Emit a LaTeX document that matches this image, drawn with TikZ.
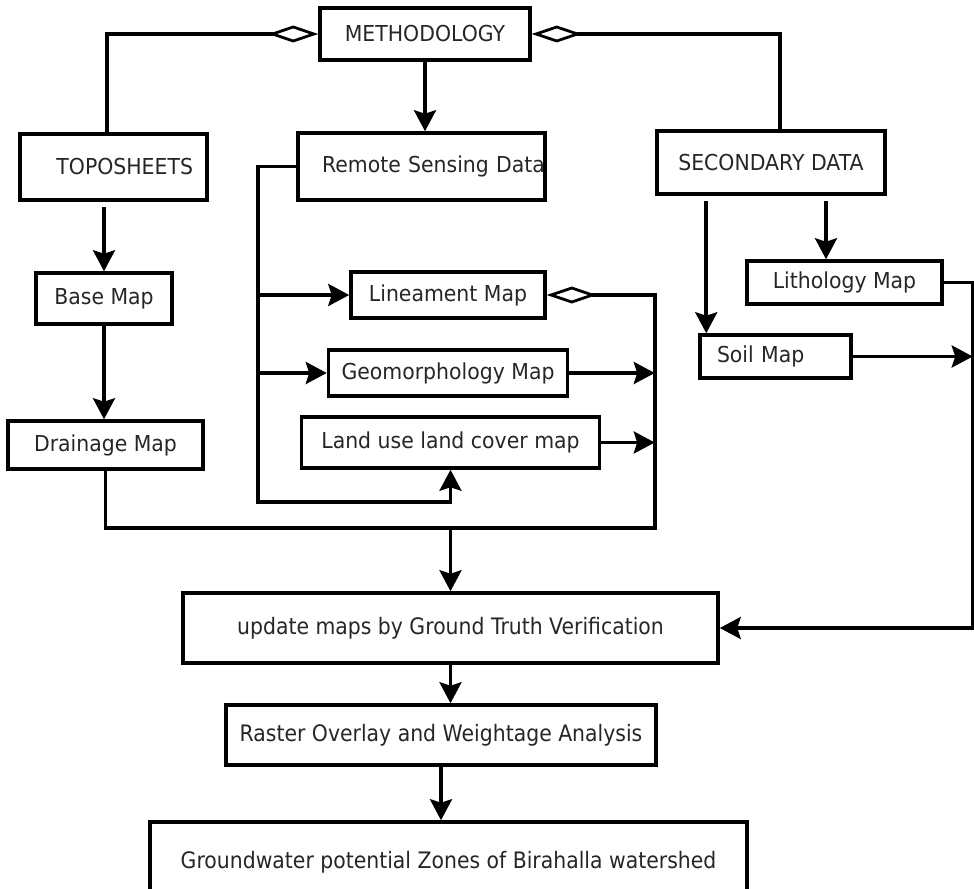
\documentclass[tikz,border=0pt]{standalone}
\usepackage{fontspec}
\usepackage{tikz}
\usetikzlibrary{shapes.geometric, arrows.meta}
\newfontfamily\mapfont[FakeStretch=0.93]{DejaVu Sans}
\newfontfamily\resfont[FakeStretch=0.9]{DejaVu Sans}
\tikzstyle{mapbox} = [rectangle, text centered, draw=black, line width=2pt, text=black!85, inner xsep=2pt, font=\mapfont\fontsize{12.5pt}{15pt}\selectfont]
\tikzstyle{resultbox} = [rectangle, text centered, draw=black, line width=2pt, text=black!85, font=\resfont\fontsize{12.9pt}{15pt}\selectfont]
\tikzstyle{arrow} = [line width=2pt, -{Stealth[length=0.42cm, width=0.44cm, inset=0.07cm]}]
\tikzstyle{agg} = [line width=2pt, {Diamond[open, length=1cm, width=0.34cm, line width=1.6pt]}-]
\tikzstyle{wire} = [line width=2pt]

\begin{document}
\begin{tikzpicture}[node distance=1.5cm]
    \useasboundingbox (0,0) rectangle (19.48,-17.78);
    \node (meth) [mapbox, minimum width=4.2cm, minimum height=1.04cm] at (8.5,-0.68) {METHODOLOGY};
    \node (rs) [mapbox, below of=meth, xshift=-0.07cm, yshift=-1.15cm, minimum height=1.34cm, text width=4.94cm, inner xsep=0pt, align=right] {Remote Sensing Data};
    \node (topo) [mapbox, left of=rs, xshift=-4.66cm, yshift=-0.01cm, minimum height=1.32cm, text width=3.18cm, inner xsep=0.28cm, align=right] {TOPOSHEETS};
    \node (sec) [mapbox, right of=rs, xshift=5.49cm, yshift=0.08cm, minimum width=4.56cm, minimum height=1.26cm] {SECONDARY DATA};
    \node (base) [mapbox, below of=topo, xshift=-0.19cm, yshift=-1.13cm, minimum width=2.72cm, minimum height=1.02cm] {Base Map};
    \node (drain) [mapbox, below of=base, xshift=0.03cm, yshift=-1.43cm, minimum width=3.9cm, minimum height=0.96cm] {Drainage Map};
    \node (lin) [mapbox, below of=rs, xshift=0.53cm, yshift=-1.07cm, minimum width=3.88cm, minimum height=0.92cm] {Lineament Map};
    \node (geo) [mapbox, below of=lin, yshift=-0.06cm, minimum width=4.78cm, minimum height=0.92cm] {Geomorphology Map};
    \node (land) [mapbox, below of=geo, xshift=0.05cm, yshift=0.11cm, minimum width=5.96cm, minimum height=1.02cm] {Land use land cover map};
    \node (lith) [mapbox, below of=sec, xshift=1.47cm, yshift=-0.9cm, minimum width=3.9cm, minimum height=0.86cm] {Lithology Map};
    \node (soil) [mapbox, below of=sec, xshift=0.09cm, yshift=-2.38cm, minimum height=0.86cm, text width=2.34cm, inner xsep=0.34cm, align=left] {Soil Map};
    \node (update) [resultbox, below of=land, yshift=-2.21cm, minimum width=10.7cm, minimum height=1.4cm] {update maps by Ground Truth Verification};
    \node (raster) [resultbox, below of=update, xshift=-0.19cm, yshift=-0.64cm, minimum width=8.6cm, minimum height=1.2cm] {Raster Overlay and Weightage Analysis};
    \node (ground) [resultbox, below of=raster, xshift=0.15cm, yshift=-1.04cm, minimum width=11.94cm, minimum height=1.6cm] {Groundwater potential Zones of Birahalla watershed};

    % top level
    \draw [agg] (meth.west) -| ([xshift=-0.13cm]topo.north);
    \draw [agg] (meth.east) -| ([xshift=0.18cm]sec.north);
    \draw [arrow] (meth.south) -- (meth.south |- rs.north);

    % toposheets branch
    \draw [arrow, shorten <=3pt] (topo.south -| base.north) -- (base.north);
    \draw [arrow] (base.south) -- (base.south |- drain.north);

    % remote sensing branch
    \coordinate (lbus) at ([xshift=-0.76cm]rs.west);
    \draw [arrow] (rs.west) -- (lbus) |- (lin.west);
    \draw [arrow] (lbus |- lin.west) |- (geo.west);
    \draw [arrow] (lbus |- geo.west) |- ([yshift=-0.64cm]land.south) -- (land.south);

    \coordinate (rbus) at ([xshift=2.16cm]lin.east);
    \coordinate (join) at ([yshift=1.26cm]update.north);
    \draw [agg] (lin.east) -- (rbus) |- (join);
    \draw [arrow] (geo.east) -- (geo.east -| rbus);
    \draw [arrow] (land.east) -- (land.east -| rbus);
    \draw [wire] (drain.south) |- (join);
    \draw [arrow] (join) -- (update.north);

    % secondary data branch
    \coordinate (soilin) at ([xshift=0.16cm]soil.north west);
    \coordinate (lithin) at ([xshift=-0.37cm]lith.north);
    \draw [arrow, shorten <=3pt] (soilin |- sec.south) -- (soilin);
    \draw [arrow, shorten <=3pt] (lithin |- sec.south) -- (lithin);
    \coordinate (redge) at ([xshift=0.58cm]lith.east);
    \draw [arrow] (lith.east) -- (redge) |- (update.east);
    \draw [arrow] (soil.east) -- (soil.east -| redge);

    % results
    \draw [arrow] (update.south) -- (update.south |- raster.north);
    \draw [arrow] (raster.south) -- (raster.south |- ground.north);
\end{tikzpicture}
\end{document}
